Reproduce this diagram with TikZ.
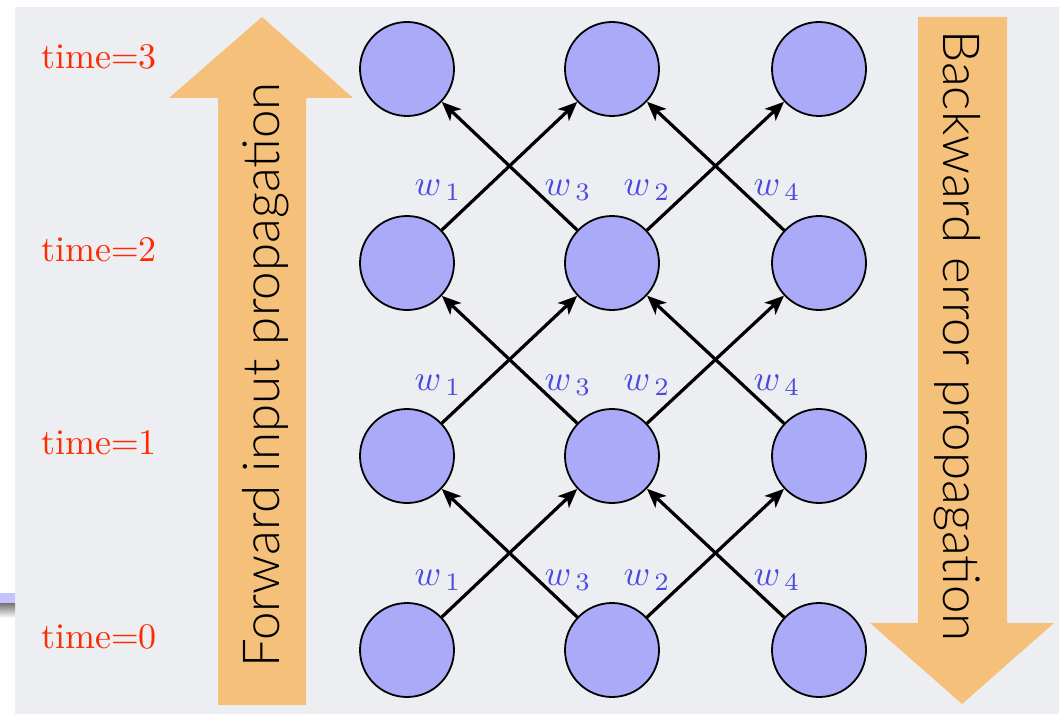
\documentclass[tikz,border=0pt]{standalone}
\usepackage{fontspec}
\IfFontExistsTF{Lato Light}{\newfontfamily\arrowfont{Lato Light}}{\newfontfamily\arrowfont{Lato}}
\usetikzlibrary{arrows.meta}
\definecolor{bggray}{HTML}{EDEEF2}
\definecolor{arrorange}{HTML}{F5C07A}
\definecolor{nodeblue}{HTML}{AAAAF8}
\definecolor{wblue}{HTML}{4A4ADE}
\definecolor{timered}{HTML}{FF2A00}
\begin{document}
\begin{tikzpicture}[x=1pt,y=-1pt,
  neuron/.style={circle,draw=black,line width=1.8pt,fill=nodeblue,minimum size=94pt,inner sep=0pt},
  conn/.style={line width=3.2pt,-{Stealth[length=19pt,width=16pt,inset=5pt]}},
  wlab/.style={text=wblue,scale=3.6,inner sep=0pt},
  tlab/.style={text=timered,scale=3.6,inner sep=0pt},
  bigarrow/.style={fill=arrorange,draw=none},
  arrtext/.style={font=\arrowfont\fontsize{51}{56}\selectfont,inner sep=0pt}]
\useasboundingbox (0,0) rectangle (1059,714);
\fill[white] (0,0) rectangle (1059,714);
\fill[bggray] (15,7) rectangle (1059,714);
\fill[nodeblue!70!white] (0,593) rectangle (15,603);
\shade[top color=gray!90!black,bottom color=white] (0,603) rectangle (15,618);
% big arrows
\fill[bigarrow] (218,705) -- (218,98) -- (169,98) -- (262,17) -- (353,98) -- (306,98) -- (306,705) -- cycle;
\fill[bigarrow] (918,17) -- (1007,17) -- (1007,623) -- (1054,623) -- (962,704) -- (870,623) -- (918,623) -- cycle;
\node[arrtext,rotate=90,anchor=base] (fwd) at (279,375) {Forward input propagation};
\node[arrtext,rotate=-90,anchor=base] (bwd) at (943,336) {Backward error propagation};
% neurons
\foreach \r/\y in {0/650,1/456,2/263,3/69}{
  \node[neuron] (n0\r) at (407,\y) {};
  \node[neuron] (n1\r) at (612,\y) {};
  \node[neuron] (n2\r) at (819,\y) {};
}
% time labels
\node[tlab] (t0) at (99,637) {time$=$0};
\node[tlab] (t1) at (99,443) {time$=$1};
\node[tlab] (t2) at (99,250) {time$=$2};
\node[tlab] (t3) at (99,57) {time$=$3};
% connections
\foreach \a/\b/\y in {0/1/580,1/2/385,2/3/190}{
  \draw[conn] (n0\a) -- (n1\b);
  \draw[conn] (n1\a) -- (n0\b);
  \draw[conn] (n1\a) -- (n2\b);
  \draw[conn] (n2\a) -- (n1\b);
  \node[wlab] (wa\a) at (438,\y) {$w_{\,1}$};
  \node[wlab] (wb\a) at (568,\y) {$w_{\,3}$};
  \node[wlab] (wc\a) at (647,\y) {$w_{\,2}$};
  \node[wlab] (wd\a) at (777,\y) {$w_{\,4}$};
}
\end{tikzpicture}
\end{document}
